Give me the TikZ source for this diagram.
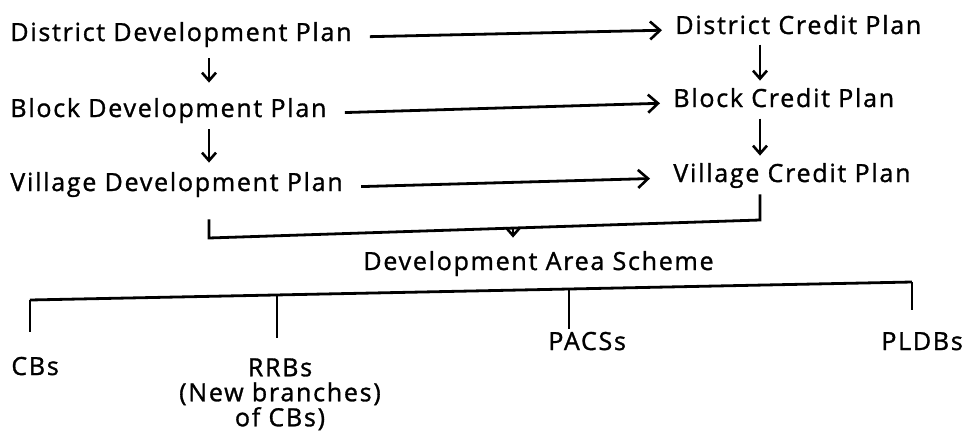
\documentclass[tikz,border=0pt]{standalone}
\usepackage{fontspec}
\setmainfont{Open Sans}[LetterSpace=7, FakeBold=1.2]
\usetikzlibrary{arrows.meta}
\begin{document}
\begin{tikzpicture}[x=1pt, y=-1pt, line width=2.8pt,
  plan/.style={anchor=base west, inner sep=2pt, font=\fontsize{25}{25}\selectfont},
  flow/.style={-{Straight Barb[length=10pt,width=18pt,line width=2.6pt]}},
  down/.style={-{Straight Barb[length=8pt,width=14pt,line width=2.6pt]}}]
  \useasboundingbox (0,0) rectangle (967,431);
  \def\Xl{209}; % left column
  \def\Xr{760}; % right column
  \coordinate (lx) at (\Xl, 0);
  \coordinate (rx) at (\Xr, 0);

  % development plans
  \node[plan] (ddp) at (7, 41) {District Development Plan};
  \node[plan] (bdp) at (7, 117) {Block Development Plan};
  \node[plan] (vdp) at (7, 191) {Village Development Plan};

  % credit plans
  \node[plan] (dcp) at (672, 34) {District Credit Plan};
  \node[plan] (bcp) at (670, 107) {Block Credit Plan};
  \node[plan] (vcp) at (670, 182) {Village Credit Plan};

  % plan to plan
  \draw[flow, shorten <=15pt, shorten >=10pt] ([yshift=4pt]ddp.base east) -- ([yshift=4pt]dcp.base west);
  \draw[flow, shorten <=15pt, shorten >=10pt] ([yshift=4pt]bdp.base east) -- ([yshift=4pt]bcp.base west);
  \draw[flow, shorten <=15pt, shorten >=20pt] ([yshift=4pt]vdp.base east) -- ([yshift=4pt]vcp.base west);

  % down the columns
  \draw[down, shorten <=8pt, shorten >=12pt] (ddp.south -| lx) -- (bdp.north -| lx);
  \draw[down, shorten <=3pt, shorten >=6pt] (bdp.south -| lx) -- (vdp.north -| lx);
  \draw[down, shorten <=7pt, shorten >=4pt] (dcp.south -| rx) -- (bcp.north -| rx);
  \draw[down, shorten <=8pt, shorten >=4pt] (bcp.south -| rx) -- (vcp.north -| rx);

  % bracket
  \coordinate (jl) at (\Xl, 238);
  \coordinate (jr) at (\Xr, 220);
  \coordinate (jm) at (513, 229);
  \draw[shorten <=19pt, shorten >=3pt] (vdp.south -| lx) -- (jl) -- (jr) -- (vcp.south -| rx);

  \node[plan] (das) at (360, 270) {Development Area Scheme};
  \draw[down, shorten >=10pt] (jm) -- (das.north -| jm);

  % institutions
  \node[plan] (cbs) at (8, 375) {CBs};
  \node[plan, anchor=north, align=center] (rrb) at (280, 355) {RRBs\\(New branches)\\of CBs)};
  \node[plan] (pacs) at (545, 350) {PACSs};
  \node[plan] (pldb) at (878, 350) {PLDBs};

  \coordinate (tb1) at (30, 300);
  \coordinate (tb2) at (277, 295);
  \coordinate (tb3) at (569, 289);
  \coordinate (tb4) at (912, 282);
  \draw (tb1) -- (tb4);
  \draw[shorten >=22pt] (tb1) -- (tb1 |- cbs.north);
  \draw[shorten >=17pt] (tb2) -- (tb2 |- rrb.north);
  \draw (tb3) -- (tb3 |- pacs.north);
  \draw[shorten >=19pt] (tb4) -- (tb4 |- pldb.north);
\end{tikzpicture}
\end{document}
